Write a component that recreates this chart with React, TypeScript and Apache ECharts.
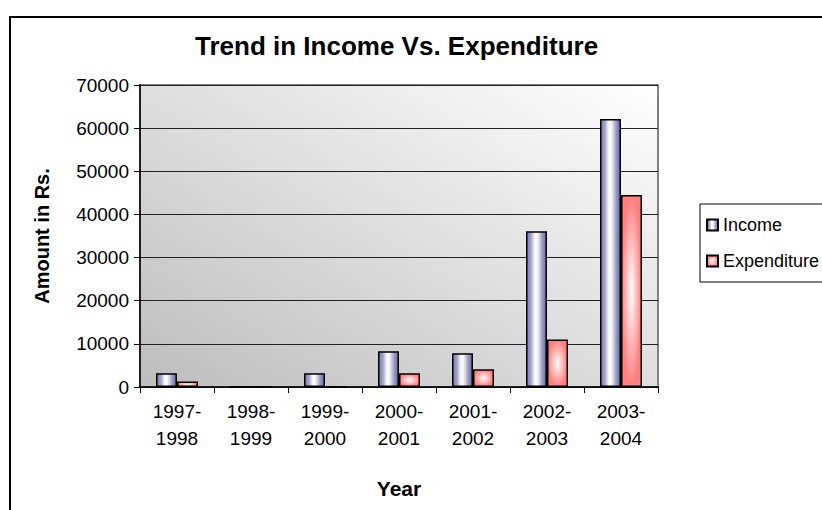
import React, { useEffect, useRef } from "react";
import * as echarts from "echarts";

const categories = ["1997-\n1998", "1998-\n1999", "1999-\n2000", "2000-\n2001", "2001-\n2002", "2002-\n2003", "2003-\n2004"];
const incomeValues = [3200, 0, 3200, 8300, 7800, 36100, 62100];
const expenditureValues = [1300, 0, 0, 3200, 4100, 11000, 44500];
const yTicks = { min: 0, max: 70000, interval: 10000 };

const FONT = "Liberation Sans";

export default function App() {
  const ref = useRef<HTMLDivElement>(null);
  useEffect(() => {
    if (!ref.current) return;
    const chart = echarts.init(ref.current, null, { renderer: "svg" });
    const incomeColor = new echarts.graphic.LinearGradient(0, 0, 1, 0, [
      { offset: 0, color: "#7a7aae" },
      { offset: 0.22, color: "#a4a4c8" },
      { offset: 0.42, color: "#ffffff" },
      { offset: 0.56, color: "#f2f2f8" },
      { offset: 0.8, color: "#9898c0" },
      { offset: 1, color: "#6c6ca2" },
    ]);
    const expColor = new echarts.graphic.RadialGradient(0.5, 0.5, 0.5, [
      { offset: 0, color: "#ffffff" },
      { offset: 0.45, color: "#ffc4c4" },
      { offset: 1, color: "#ff8080" },
    ]);
    chart.setOption({
      animation: false,
      backgroundColor: "#ffffff",
      textStyle: { fontFamily: FONT },
      title: {
        text: "Trend in Income Vs. Expenditure",
        left: 195,
        top: 33,
        padding: 0,
        textStyle: { fontSize: 26, fontWeight: "bold", color: "#000", fontFamily: FONT },
      },
      graphic: [
        {
          type: "rect",
          shape: { x: 10, y: 17, width: 900, height: 600 },
          style: { fill: "none", stroke: "#000", lineWidth: 2 },
          silent: true,
          z: 100,
        },
      ],
      legend: {
        orient: "vertical",
        left: 700,
        top: 204,
        padding: [12, 60, 12, 6],
        borderColor: "#000",
        borderWidth: 1,
        itemWidth: 11,
        itemHeight: 11,
        itemGap: 18,
        icon: "rect",
        textStyle: { fontSize: 18, color: "#000", fontFamily: FONT, padding: [0, 0, 0, 0] },
        data: ["Income", "Expenditure"],
      },
      grid: {
        left: 140,
        top: 85,
        width: 518,
        height: 302,
        show: true,
        backgroundColor: new echarts.graphic.LinearGradient(0, 1, 1, 0, [
          { offset: 0, color: "#bdbdbd" },
          { offset: 1, color: "#ffffff" },
        ]),
        borderColor: "#808080",
        borderWidth: 2,
      },
      xAxis: {
        type: "category",
        data: categories,
        name: "Year",
        nameLocation: "middle",
        nameGap: 91,
        nameTextStyle: { fontSize: 21, fontWeight: "bold", color: "#000", fontFamily: FONT },
        axisLine: { lineStyle: { color: "#000", width: 1.5 } },
        axisTick: { show: true, length: 6, lineStyle: { color: "#000" } },
        axisLabel: { fontSize: 19, color: "#000", lineHeight: 27, margin: 11, fontFamily: FONT },
      },
      yAxis: {
        type: "value",
        min: yTicks.min,
        max: yTicks.max,
        interval: yTicks.interval,
        name: "Amount in Rs.",
        nameLocation: "middle",
        nameRotate: 90,
        nameGap: 88,
        nameTextStyle: { fontSize: 20, fontWeight: "bold", color: "#000", fontFamily: FONT },
        axisLine: { show: true, lineStyle: { color: "#000", width: 1.5 } },
        axisTick: { show: true, length: 6, lineStyle: { color: "#000" } },
        axisLabel: {
          fontSize: 19,
          color: "#000",
          margin: 11,
          fontFamily: FONT,
          formatter: (v: number) => String(v),
        },
        splitLine: { show: true, lineStyle: { color: "#222", width: 1 } },
      },
      series: [
        {
          name: "Income",
          type: "bar",
          data: incomeValues,
          barWidth: 21,
          barGap: "0%",
          itemStyle: { color: incomeColor, borderColor: "#000", borderWidth: 1.5 },
        },
        {
          name: "Expenditure",
          type: "bar",
          data: expenditureValues,
          barWidth: 21,
          itemStyle: { color: expColor, borderColor: "#000", borderWidth: 1.5 },
        },
      ],
    });
    return () => chart.dispose();
  }, []);
  return (
    <div
      ref={ref}
      style={{ position: "fixed", left: 0, top: 0, width: 822, height: 510 }}
    />
  );
}
